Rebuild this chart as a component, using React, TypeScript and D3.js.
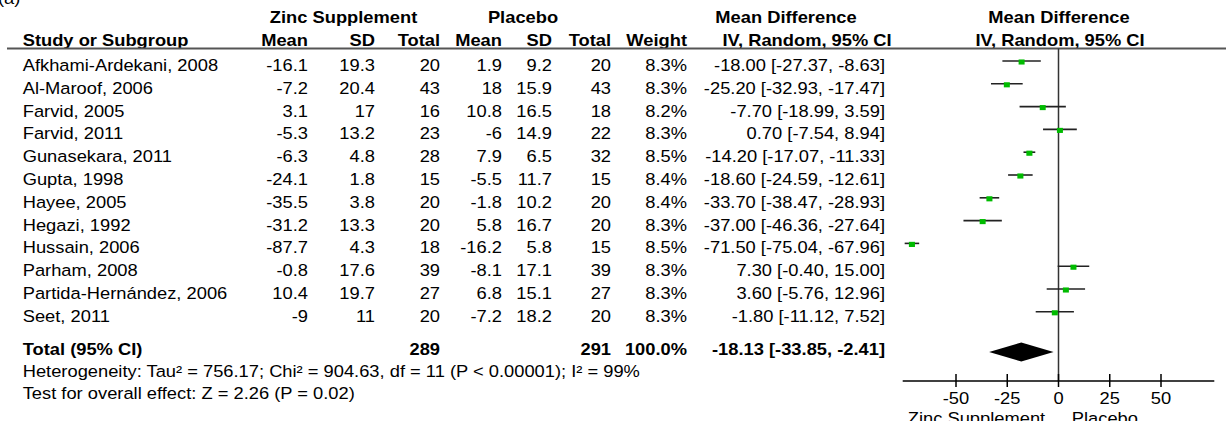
import React from "react";
import * as d3 from "d3";

const studies = [
  "Afkhami-Ardekani, 2008",
  "Al-Maroof, 2006",
  "Farvid, 2005",
  "Farvid, 2011",
  "Gunasekara, 2011",
  "Gupta, 1998",
  "Hayee, 2005",
  "Hegazi, 1992",
  "Hussain, 2006",
  "Parham, 2008",
  "Partida-Hernández, 2006",
  "Seet, 2011",
];
const zincMean = [-16.1, -7.2, 3.1, -5.3, -6.3, -24.1, -35.5, -31.2, -87.7, -0.8, 10.4, -9];
const zincSD = [19.3, 20.4, 17, 13.2, 4.8, 1.8, 3.8, 13.3, 4.3, 17.6, 19.7, 11];
const zincN = [20, 43, 16, 23, 28, 15, 20, 20, 18, 39, 27, 20];
const placeboMean = [1.9, 18, 10.8, -6, 7.9, -5.5, -1.8, 5.8, -16.2, -8.1, 6.8, -7.2];
const placeboSD = [9.2, 15.9, 16.5, 14.9, 6.5, 11.7, 10.2, 16.7, 5.8, 17.1, 15.1, 18.2];
const placeboN = [20, 43, 18, 22, 32, 15, 20, 20, 15, 39, 27, 20];
const weights = [8.3, 8.3, 8.2, 8.3, 8.5, 8.4, 8.4, 8.3, 8.5, 8.3, 8.3, 8.3];
const meanDiff = [-18.0, -25.2, -7.7, 0.7, -14.2, -18.6, -33.7, -37.0, -71.5, 7.3, 3.6, -1.8];
const ciLow = [-27.37, -32.93, -18.99, -7.54, -17.07, -24.59, -38.47, -46.36, -75.04, -0.4, -5.76, -11.12];
const ciHigh = [-8.63, -17.47, 3.59, 8.94, -11.33, -12.61, -28.93, -27.64, -67.96, 15.0, 12.96, 7.52];

const totalZincN = 289;
const totalPlaceboN = 291;
const totalWeight = 100.0;
const totalMD = -18.13;
const totalLow = -33.85;
const totalHigh = -2.41;

const axisTicks = [-50, -25, 0, 25, 50];
const heterogeneityText =
  "Heterogeneity: Tau² = 756.17; Chi² = 904.63, df = 11 (P < 0.00001); I² = 99%";
const overallText = "Test for overall effect: Z = 2.26 (P = 0.02)";
const favoursLeft = "Zinc Supplement";
const favoursRight = "Placebo";

const W = 1226;
const H = 421;
const FS = 16.5;
const SX = 1.11;
const FONT = "'Liberation Sans', Arial, Helvetica, sans-serif";

type TProps = {
  x: number;
  y: number;
  anchor?: "start" | "middle" | "end";
  bold?: boolean;
  children: React.ReactNode;
};

const T = ({ x, y, anchor = "start", bold = false, children }: TProps) => (
  <text
    transform={`translate(${x},${y}) scale(${SX},1)`}
    textAnchor={anchor}
    fontWeight={bold ? "bold" : "normal"}
    fontSize={FS}
    fontFamily={FONT}
    fill="#000"
  >
    {children}
  </text>
);

const fmt2 = (v: number) => v.toFixed(2);

export default function App() {
  const x = d3.scaleLinear().domain([-76, 76]).range([902.7, 1214.3]);
  // marker (plot) row centres
  const row = d3.scaleLinear().domain([0, 1]).range([62, 84.8]);
  const markerSize = d3.scaleSqrt().domain([0, 8.3]).range([0, 6]);

  const col = {
    name: 22.7,
    zMean: 308,
    zSD: 375,
    zN: 440,
    pMean: 502,
    pSD: 552,
    pN: 611,
    weight: 687,
    ci: 885,
  };

  const textOffset = 9; // baseline below marker centre
  const totalY = 352; // diamond centre
  const totalBase = 355;
  const hetBase = 377;
  const testBase = 399;
  const axisY = 381;
  const x0 = x(0);

  return (
    <svg
      width={W}
      height={H}
      style={{ position: "absolute", left: 0, top: 0, display: "block", background: "#fff" }}
    >
      <rect x={0} y={0} width={W} height={H} fill="#fff" />
      <T x={-2} y={4}>(a)</T>

      {/* group headers */}
      <T x={343.5} y={23} anchor="middle" bold>Zinc Supplement</T>
      <T x={523} y={23} anchor="middle" bold>Placebo</T>
      <T x={786} y={23} anchor="middle" bold>Mean Difference</T>
      <T x={1059} y={23} anchor="middle" bold>Mean Difference</T>

      <T x={col.name} y={46} bold>Study or Subgroup</T>
      <T x={col.zMean} y={46} anchor="end" bold>Mean</T>
      <T x={col.zSD} y={46} anchor="end" bold>SD</T>
      <T x={col.zN} y={46} anchor="end" bold>Total</T>
      <T x={col.pMean} y={46} anchor="end" bold>Mean</T>
      <T x={col.pSD} y={46} anchor="end" bold>SD</T>
      <T x={col.pN} y={46} anchor="end" bold>Total</T>
      <T x={col.weight} y={46} anchor="end" bold>Weight</T>
      <T x={807} y={46} anchor="middle" bold>IV, Random, 95% CI</T>
      <T x={1060} y={46} anchor="middle" bold>IV, Random, 95% CI</T>

      <line x1={7} x2={W} y1={48.5} y2={48.5} stroke="#555" strokeWidth={2} />

      {/* zero line */}
      <line x1={x0} x2={x0} y1={48.5} y2={axisY} stroke="#333" strokeWidth={1.5} />

      {studies.map((s, i) => {
        const cy = row(i);
        const y = cy + textOffset;
        const m = markerSize(weights[i]);
        return (
          <g key={s}>
            <T x={col.name} y={y}>{s}</T>
            <T x={col.zMean} y={y} anchor="end">{String(zincMean[i])}</T>
            <T x={col.zSD} y={y} anchor="end">{String(zincSD[i])}</T>
            <T x={col.zN} y={y} anchor="end">{String(zincN[i])}</T>
            <T x={col.pMean} y={y} anchor="end">{String(placeboMean[i])}</T>
            <T x={col.pSD} y={y} anchor="end">{String(placeboSD[i])}</T>
            <T x={col.pN} y={y} anchor="end">{String(placeboN[i])}</T>
            <T x={col.weight} y={y} anchor="end">{weights[i].toFixed(1) + "%"}</T>
            <T x={col.ci} y={y} anchor="end">
              {`${fmt2(meanDiff[i])} [${fmt2(ciLow[i])}, ${fmt2(ciHigh[i])}]`}
            </T>
            <line
              x1={x(ciLow[i])}
              x2={x(ciHigh[i])}
              y1={cy - 1}
              y2={cy - 1}
              stroke="#222"
              strokeWidth={1.6}
            />
            <rect
              x={x(meanDiff[i]) - m / 2}
              y={cy - (m * 0.85) / 2}
              width={m}
              height={m * 0.85}
              fill="#00bb00"
            />
          </g>
        );
      })}

      {/* total */}
      <T x={col.name} y={totalBase} bold>Total (95% CI)</T>
      <T x={col.zN} y={totalBase} anchor="end" bold>{String(totalZincN)}</T>
      <T x={col.pN} y={totalBase} anchor="end" bold>{String(totalPlaceboN)}</T>
      <T x={col.weight} y={totalBase} anchor="end" bold>{totalWeight.toFixed(1) + "%"}</T>
      <T x={col.ci} y={totalBase} anchor="end" bold>
        {`${fmt2(totalMD)} [${fmt2(totalLow)}, ${fmt2(totalHigh)}]`}
      </T>
      {(() => {
        const pts: [number, number][] = [
          [x(totalLow), totalY],
          [x(totalMD), totalY - 9.5],
          [x(totalHigh), totalY],
          [x(totalMD), totalY + 9.5],
        ];
        return <path d={(d3.line()(pts) as string) + "Z"} fill="#000" />;
      })()}

      <T x={col.name} y={hetBase}>{heterogeneityText}</T>
      <T x={col.name} y={testBase}>{overallText}</T>

      {/* axis */}
      <line x1={x.range()[0]} x2={x.range()[1]} y1={axisY} y2={axisY} stroke="#000" strokeWidth={1.5} />
      {axisTicks.map((t) => (
        <g key={t}>
          <line x1={x(t)} x2={x(t)} y1={axisY - 7} y2={axisY + 6} stroke="#000" strokeWidth={1.5} />
          <T x={x(t)} y={404} anchor="middle">{String(t)}</T>
        </g>
      ))}
      <T x={x(-6.5)} y={424} anchor="end">{favoursLeft}</T>
      <T x={x(6.5)} y={424}>{favoursRight}</T>
    </svg>
  );
}
